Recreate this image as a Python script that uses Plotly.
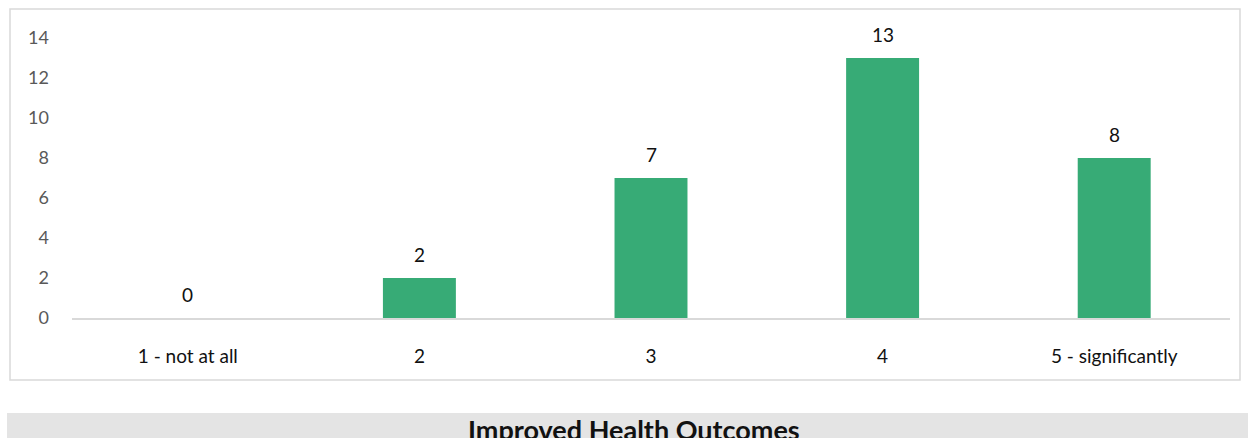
import plotly.graph_objects as go

categories = ["1 - not at all", "2", "3", "4", "5 - significantly"]
values = [0, 2, 7, 13, 8]
y_ticks = [0, 2, 4, 6, 8, 10, 12, 14]
title_text = "Improved Health Outcomes"

BAR = "#37ab76"
FONT = "Lato, 'Open Sans', sans-serif"

fig = go.Figure()
fig.add_trace(go.Bar(
    x=categories, y=values,
    marker=dict(color=BAR, line=dict(width=0)),
    width=0.315, hoverinfo="skip",
))

for i, v in enumerate(values):
    fig.add_annotation(x=i, y=v, xref="x", yref="y", text=str(v), showarrow=False,
                       yshift=24, font=dict(family=FONT, size=19, color="#111111"))

L, R, T, B = 72, 18, 38, 120
W, H = 1248, 438
pw = W - L - R
ph = H - T - B

def px(x):
    return (x - L) / pw

def py(y):
    return (H - B - y) / ph

# outer chart border
fig.add_shape(type="rect", xref="paper", yref="paper",
              x0=px(10), x1=px(1240), y0=py(380), y1=py(9),
              line=dict(color="#d9d9d9", width=1.5), fillcolor="rgba(0,0,0,0)", layer="below")
# bottom grey band
fig.add_shape(type="rect", xref="paper", yref="paper",
              x0=px(7), x1=px(1252), y0=py(413), y1=py(445),
              line=dict(width=0), fillcolor="#e4e4e4", layer="below")
fig.add_annotation(xref="paper", yref="paper", x=px(634), y=py(411), yanchor="top",
                   text="<b>" + title_text + "</b>", showarrow=False,
                   font=dict(family=FONT, size=27, color="#111111"))

fig.update_layout(
    width=W, height=H,
    margin=dict(l=L, r=R, t=T, b=B),
    paper_bgcolor="white", plot_bgcolor="white",
    showlegend=False,
    font=dict(family=FONT),
    xaxis=dict(type="category", showgrid=False, showline=True, linecolor="#d9d9d9", linewidth=2,
               ticks="", tickfont=dict(size=19, color="#111111"),
               ticklabelstandoff=20, zeroline=False),
    yaxis=dict(range=[0, 14], tickvals=y_ticks, showgrid=False, showline=False,
               zeroline=False, ticks="", tickfont=dict(size=18, color="#595959"),
               ticklabelstandoff=22),
)

fig.write_html("out.html")
